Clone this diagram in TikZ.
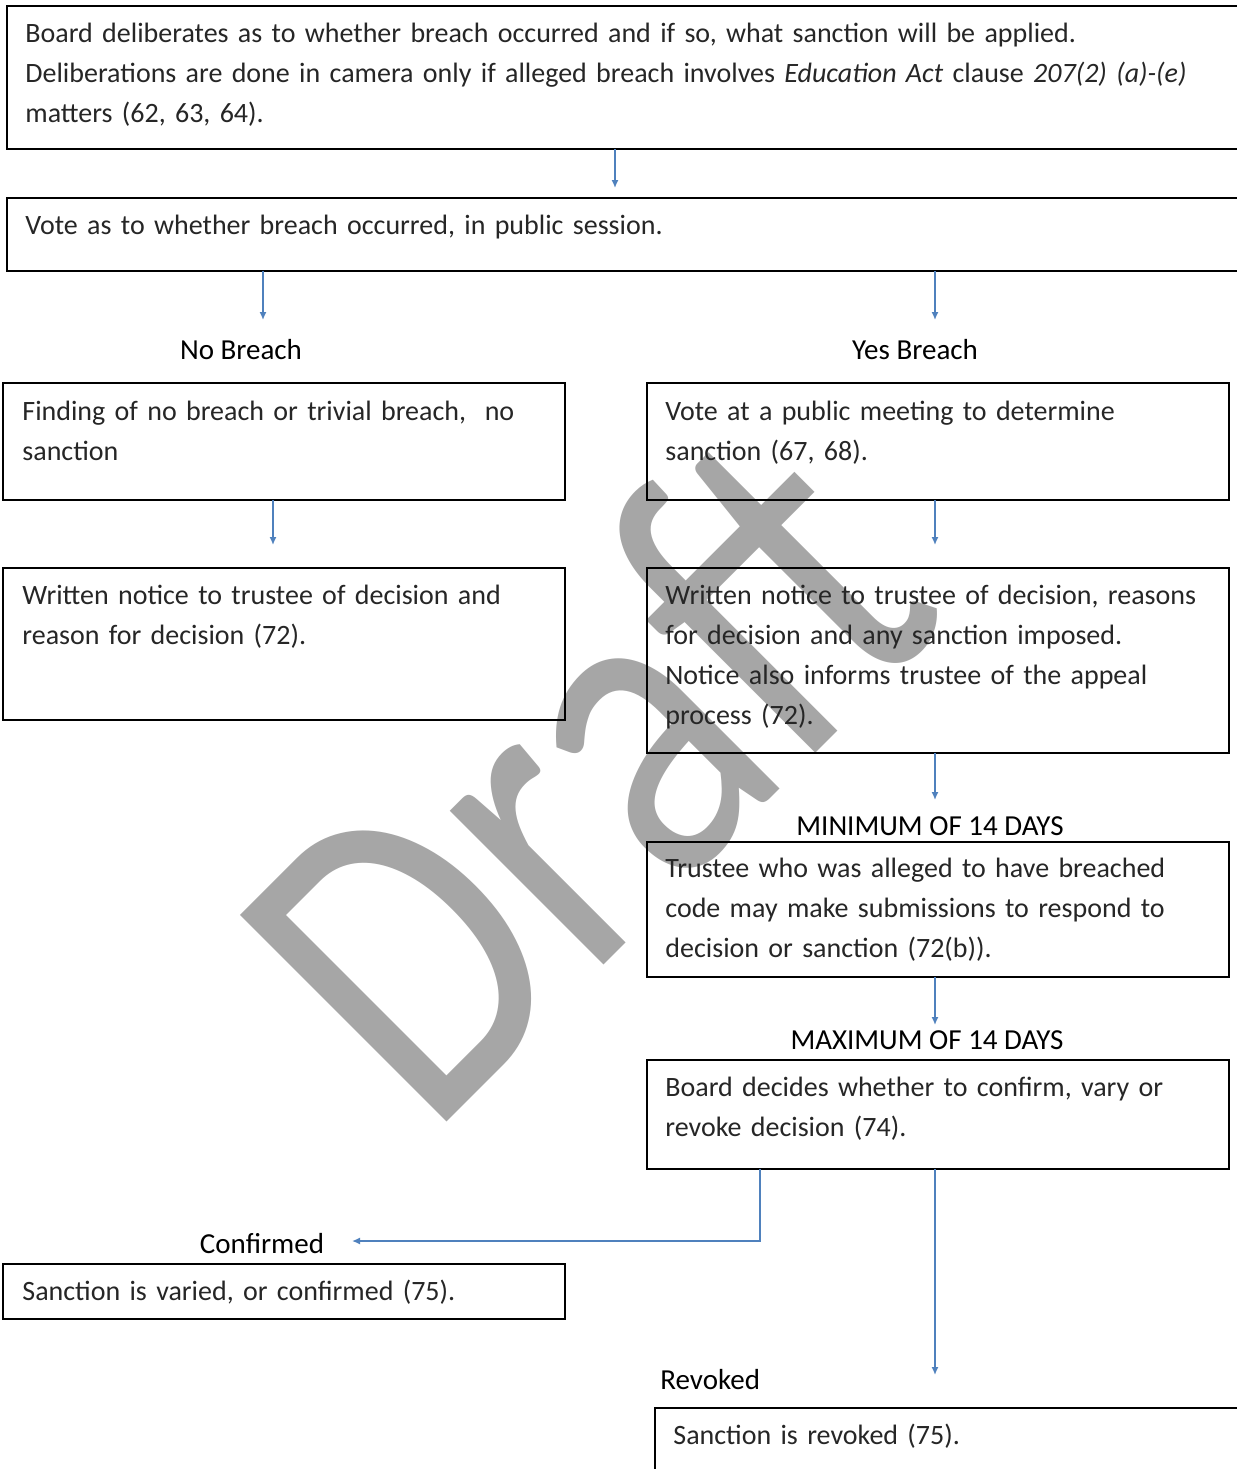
\documentclass[tikz,border=0pt]{standalone}
\usepackage{fontspec}
\setmainfont{Carlito}
\usetikzlibrary{arrows.meta}
\definecolor{arrowblue}{HTML}{4F81BD}
\definecolor{wmgray}{HTML}{A6A6A6}
\definecolor{boxtext}{HTML}{262626}
\begin{document}
\begin{tikzpicture}[x=0.5pt,y=-0.5pt,
  boxframe/.style={draw=black,line width=1pt,anchor=north west,inner sep=0pt,outer sep=0pt},
  btext/.style={anchor=base west,inner sep=0pt,align=left,text width=#1,
    font=\fontsize{14}{20}\selectfont,text=boxtext},
  lbl/.style={anchor=base,inner sep=0pt,font=\fontsize{14.5}{17}\selectfont,text=black},
  conn/.style={draw=arrowblue,line width=0.75pt,-{Latex[length=4pt,width=3.5pt]}},
  elbow/.style={draw=arrowblue,line width=0.75pt,-{Latex[length=4pt,width=3.5pt]}}]
\useasboundingbox (0,0) rectangle (1237,1469);
\clip (0,0) rectangle (1237,1469);
\fill[white] (0,0) rectangle (1237,1469);

% watermark
\node[text=wmgray,inner sep=0pt,anchor=base west,rotate=45,xscale=0.92,yscale=1.15,
  font=\fontsize{198}{198}\selectfont] (wm) at (429,1140) {Draft};

% boxes
\node[boxframe,minimum width=621.5pt,minimum height=71.5pt] (b1) at (7,6) {};
\node[boxframe,minimum width=621.5pt,minimum height=36.5pt] (b2) at (7,198) {};
\node[boxframe,minimum width=281pt,minimum height=58.5pt] (b3l) at (3,383) {};
\node[boxframe,minimum width=291pt,minimum height=58.5pt] (b3r) at (647,383) {};
\node[boxframe,minimum width=281pt,minimum height=76pt] (b4l) at (3,568) {};
\node[boxframe,minimum width=291pt,minimum height=92.5pt] (b4r) at (647,568) {};
\node[boxframe,minimum width=291pt,minimum height=67.5pt] (b5) at (647,842) {};
\node[boxframe,minimum width=291pt,minimum height=54.5pt] (b6) at (647,1060) {};
\node[boxframe,minimum width=281pt,minimum height=27.5pt] (b7) at (3,1264) {};
\node[boxframe,minimum width=300pt,minimum height=40pt] (b8) at (655,1408) {};

% box texts
\node[btext=700pt] (t1) at (25,42) {Board deliberates as to whether breach occurred and if so, what sanction will be applied.\\
Deliberations are done in camera only if alleged breach involves \textit{Education Act} clause \textit{207(2) (a)-(e)}\\
matters (62, 63, 64).};
\node[btext=700pt] (t2) at (25,234) {Vote as to whether breach occurred, in public session.};
\node[btext=320pt] (t3l) at (22,420) {Finding of no breach or trivial breach,\ \ no\\ sanction};
\node[btext=320pt] (t3r) at (665,420) {Vote at a public meeting to determine\\ sanction (67, 68).};
\node[btext=320pt] (t4l) at (22,604) {Written notice to trustee of decision and\\ reason for decision (72).};
\node[btext=320pt] (t4r) at (665,604) {Written notice to trustee of decision, reasons\\ for decision and any sanction imposed.\\ Notice also informs trustee of the appeal\\ process (72).};
\node[btext=320pt] (t5) at (665,877) {Trustee who was alleged to have breached\\ code may make submissions to respond to\\ decision or sanction (72(b)).};
\node[btext=320pt] (t6) at (665,1096) {Board decides whether to confirm, vary or\\ revoke decision (74).};
\node[btext=320pt] (t7) at (22,1300) {Sanction is varied, or confirmed (75).};
\node[btext=320pt] (t8) at (673,1444) {Sanction is revoked (75).};

% labels
\node[lbl] (lno) at (241,359) {No Breach};
\node[lbl] (lyes) at (915,359) {Yes Breach};
\node[lbl] (lmin) at (930,835) {MINIMUM OF 14 DAYS};
\node[lbl] (lmax) at (927,1049) {MAXIMUM OF 14 DAYS};
\node[lbl] (lconf) at (262,1253) {Confirmed};
\node[lbl,anchor=base west] (lrev) at (660,1389) {Revoked};

% arrow end points
\coordinate (e1) at (615,188);
\coordinate (e2) at (263,320);
\coordinate (e3) at (935,320);
\coordinate (e4) at (273,545);
\coordinate (e5) at (935,545);
\coordinate (e6) at (935,800);
\coordinate (e7) at (935,1025);
\coordinate (k8) at (760,1241);
\coordinate (e8) at (352,1241);
\coordinate (e9) at (935,1375);

% connectors
\draw[conn] (b1.south -| e1) -- (e1);
\draw[conn] (b2.south -| e2) -- (e2);
\draw[conn] (b2.south -| e3) -- (e3);
\draw[conn] (b3l.south -| e4) -- (e4);
\draw[conn] (b3r.south -| e5) -- (e5);
\draw[conn] (b4r.south -| e6) -- (e6);
\draw[conn] (b5.south -| e7) -- (e7);
\draw[elbow] (b6.south -| k8) -- (k8) -- (e8);
\draw[conn] (b6.south -| e9) -- (e9);
\end{tikzpicture}
\end{document}
